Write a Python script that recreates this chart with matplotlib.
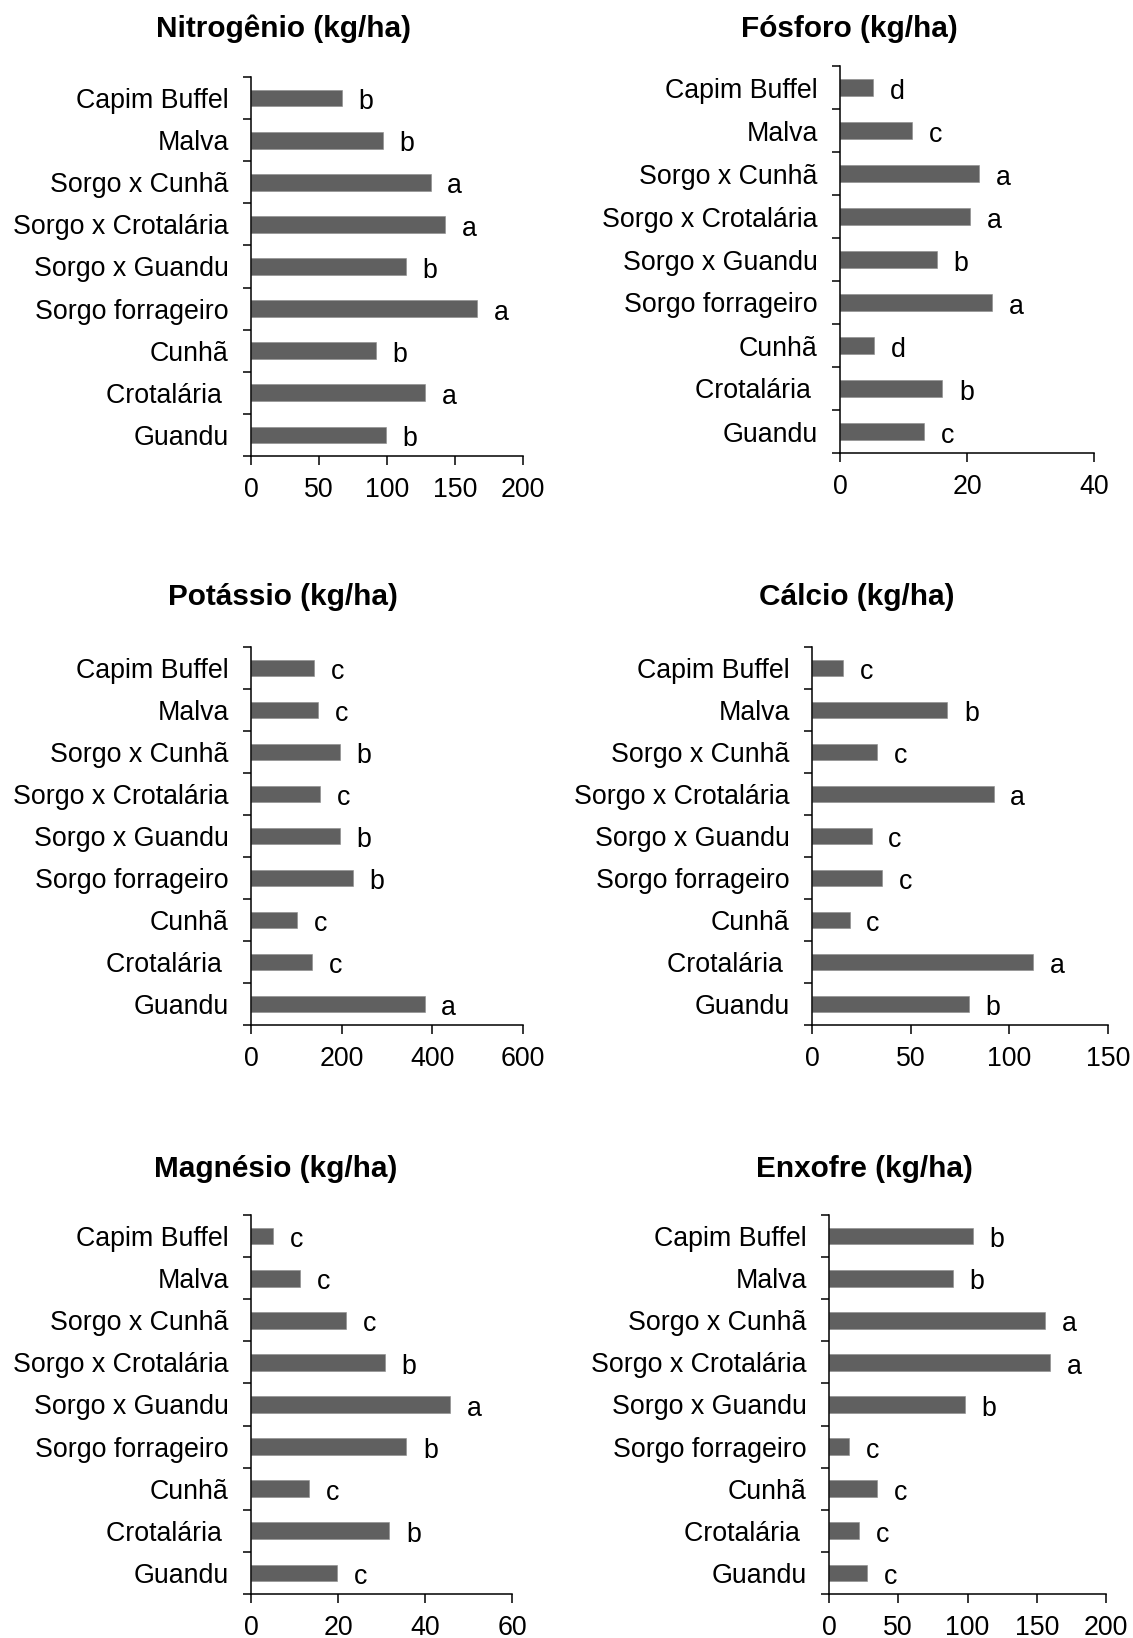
import matplotlib
matplotlib.use("Agg")
import matplotlib.pyplot as plt
import numpy as np

plt.rcParams['font.family'] = ['Liberation Sans', 'DejaVu Sans']

# categorias de cima para baixo
categorias = ["Capim Buffel", "Malva", "Sorgo x Cunhã", "Sorgo x Crotalária",
              "Sorgo x Guandu", "Sorgo forrageiro", "Cunhã", "Crotalária ", "Guandu"]

nitrogenio = [67, 97, 132, 143, 114, 166, 92, 128, 99]
letras_n = ["b", "b", "a", "a", "b", "a", "b", "a", "b"]

fosforo = [5.2, 11.4, 21.9, 20.5, 15.3, 23.9, 5.4, 16.1, 13.2]
letras_p = ["d", "c", "a", "a", "b", "a", "d", "b", "c"]

potassio = [139, 148, 196, 153, 196, 224, 102, 134, 383]
letras_k = ["c", "c", "b", "c", "b", "b", "c", "c", "a"]

calcio = [15.7, 68.5, 32.8, 92.0, 30.2, 35.4, 19.1, 112, 79.4]
letras_ca = ["c", "b", "c", "a", "c", "c", "c", "a", "b"]

magnesio = [5.1, 11.2, 21.9, 30.7, 45.8, 35.7, 13.3, 31.8, 19.8]
letras_mg = ["c", "c", "c", "b", "a", "b", "c", "b", "c"]

enxofre = [104, 89.3, 156, 159.7, 98, 14.5, 34.8, 21.9, 27.4]
letras_s = ["b", "b", "a", "a", "b", "c", "c", "c", "c"]

titulos = ["Nitrogênio (kg/ha)", "Fósforo (kg/ha)", "Potássio (kg/ha)",
           "Cálcio (kg/ha)", "Magnésio (kg/ha)", "Enxofre (kg/ha)"]
eixos_x = [[0, 50, 100, 150, 200], [0, 20, 40], [0, 200, 400, 600],
           [0, 50, 100, 150], [0, 20, 40, 60], [0, 50, 100, 150, 200]]

W, H = 1133, 1638
fig = plt.figure(figsize=(W / 100, H / 100), dpi=100)

# (esquerda, topo, direita, base) em pixels, e posicao do titulo
caixas = [(251, 77, 523, 456), (840, 66, 1094, 453),
          (251, 647, 523, 1025), (812, 647, 1108, 1025),
          (251, 1215, 512, 1594), (829, 1215, 1106, 1594)]
pos_titulo = [(284, 37), (849, 37), (283, 605), (857, 605), (276, 1177), (864, 1177)]

dados = [(nitrogenio, letras_n), (fosforo, letras_p), (potassio, letras_k),
         (calcio, letras_ca), (magnesio, letras_mg), (enxofre, letras_s)]

cor = "#606060"
y = np.arange(len(categorias))

for k, (valores, letras) in enumerate(dados):
    l, t, r, b = caixas[k]
    ax = fig.add_axes([l / W, 1 - b / H, (r - l) / W, (b - t) / H])
    ax.barh(y, valores, height=0.4, color=cor, edgecolor="#8a8a8a", linewidth=0.4)
    for i, (v, let) in enumerate(zip(valores, letras)):
        ax.annotate(let, xy=(v, i), xytext=(12, -8), textcoords="offset points",
                    ha="left", va="baseline", fontsize=19.3)
    ticks = eixos_x[k]
    ax.set_xlim(ticks[0], ticks[-1])
    ax.set_xticks(ticks)
    ax.set_ylim(len(categorias) - 0.5, -0.5)
    ax.set_yticks(y)
    ax.set_yticklabels(categorias)
    ax.set_yticks(np.arange(-0.5, len(categorias), 1), minor=True)
    ax.tick_params(axis="y", which="major", length=0, pad=16, labelsize=19.3)
    ax.tick_params(axis="y", which="minor", length=5.5, width=1.1, direction="out")
    ax.tick_params(axis="x", length=6.5, width=1.1, direction="out", pad=8.5, labelsize=19.3)
    for s in ["top", "right"]:
        ax.spines[s].set_visible(False)
    for s in ["left", "bottom"]:
        ax.spines[s].set_linewidth(1.1)
    ax.patch.set_alpha(0)
    tx, ty = pos_titulo[k]
    fig.text(tx / W, 1 - ty / H, titulos[k], ha="center", va="baseline",
             fontsize=21.4, fontweight="bold")

fig.savefig("out.png", dpi=100, facecolor="white")
